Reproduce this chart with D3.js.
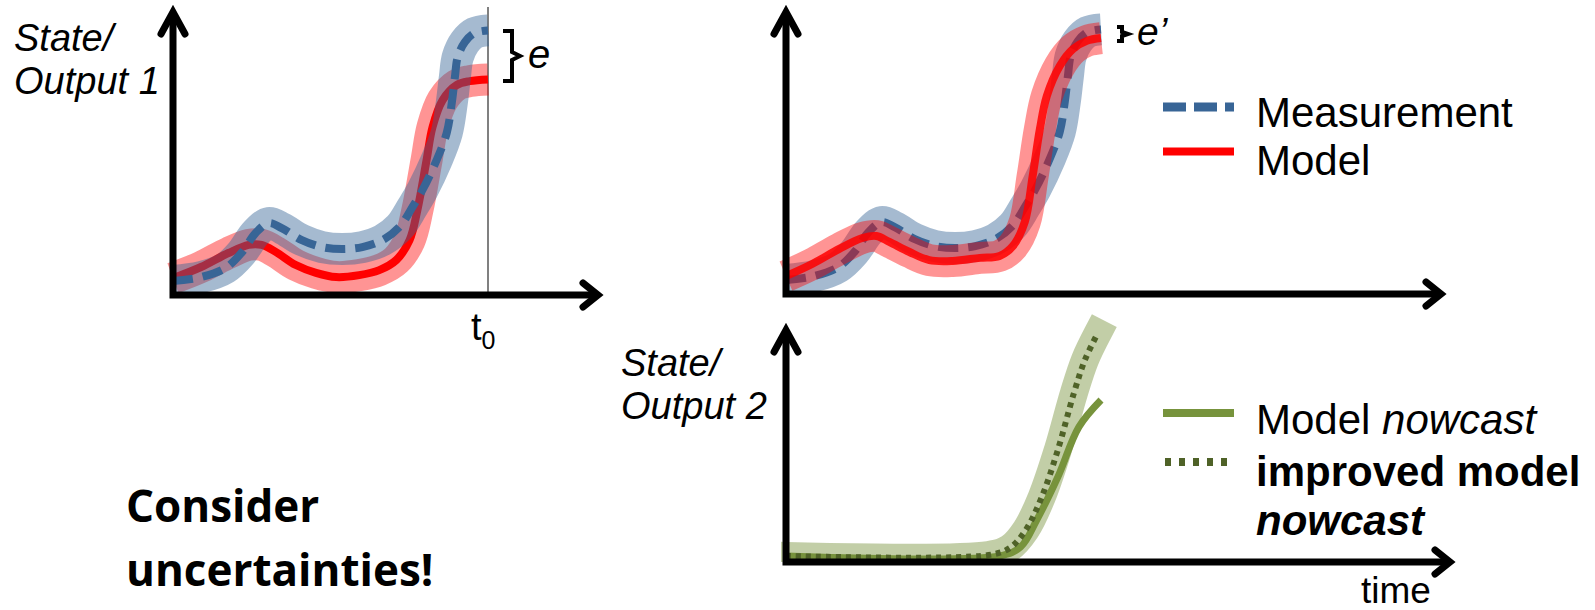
<!DOCTYPE html>
<html>
<head>
<meta charset="utf-8">
<script src="https://cdn.jsdelivr.net/npm/d3@7"></script>
<style>
  body { margin: 0; background: #fff; }
  text { font-family: "Liberation Sans", Arial, sans-serif; fill: #000; }
</style>
</head>
<body>
<div class="chart"></div>
<script>
// Values. Time runs 0..100 where 100 is t0 (now),
// state values run 0..100 from the x axis up.
var measurementTime = [0, 9, 16.6, 21.7, 26.2, 30.4, 34.5, 40.9, 47.3, 53.7, 60.1, 66.5, 71.9, 76, 79.2, 83.7, 86.9, 88.5, 89.5, 90.4, 92.7, 95.8, 100];
var measurementValue = [5, 6.4, 9.6, 15, 22.1, 25.7, 23.9, 19.6, 17.1, 16.4, 17.1, 19.6, 24.3, 31.4, 37.5, 48.2, 57.9, 68.6, 77.9, 85, 90.4, 93.6, 94.5];

var modelTime = [0, 8.9, 17.6, 24, 28.1, 32.6, 39, 45.4, 51.8, 59.1, 65.5, 70.9, 75.1, 77.6, 80.5, 82.4, 85.6, 90.1, 94.2, 100];
var modelValue = [6, 10, 15, 17.9, 17.9, 15.4, 10.7, 7.9, 6.4, 7.1, 8.9, 12.5, 19.6, 30.4, 48.2, 60, 69.6, 75, 76.4, 77];

var improvedTime = [0, 8.3, 16.9, 24.2, 28.7, 32.8, 39.2, 45.5, 52.9, 61.5, 67.8, 72, 75.8, 78.3, 80.6, 82.8, 86.9, 91.1, 95.5, 100];
var improvedValue = [6.4, 10.7, 16.1, 20, 20.7, 18.6, 15, 12.1, 11.8, 12.9, 13.6, 17.1, 25.7, 42.1, 58.9, 70.7, 81.4, 87.5, 90.4, 91.4];

var nowcastTime = [0, 67.8, 74.5, 79.6, 86.3, 93, 100];
var nowcastValue = [2.5, 2.5, 6.3, 17.5, 35.4, 56.3, 67.5];

var improvedNowcastTime = [0, 64.3, 71, 76.1, 81.2, 86.3, 91.4, 94.9, 99];
var improvedNowcastValue = [2.5, 2.9, 5.8, 13.3, 27.1, 46.7, 70.4, 84.2, 95.4];

var topLegendLabels = ["Measurement", "Model"];
var yLabel1 = ["State/", "Output 1"];
var yLabel2 = ["State/", "Output 2"];
var message = ["Consider", "uncertainties!"];

// colours
var blue = "#386596", red = "#ff0000", green = "#77933c", darkGreen = "#4f6228";

var svg = d3.select(".chart")
    .append("svg")
    .attr("width", 1595)
    .attr("height", 610);

// scales, one per panel
var xLeft = d3.scaleLinear().domain([0, 100]).range([173, 488]);
var xRight = d3.scaleLinear().domain([0, 100]).range([786, 1101]);
var yTopLeft = d3.scaleLinear().domain([0, 100]).range([295, 15]);
var yTopRight = d3.scaleLinear().domain([0, 100]).range([294, 14]);
var yBottom = d3.scaleLinear().domain([0, 100]).range([562, 322]);

// the uncertainty band of output 2 is cut at the axes
svg.append("defs").append("clipPath").attr("id", "clip-bottom")
    .append("rect")
    .attr("x", xRight(0) - 5).attr("y", 280)
    .attr("width", 400).attr("height", yBottom(0) - 280);

function drawSeries(g, xs, ys, times, values, color, width, opacity, dash, cap) {
    var line = d3.line()
        .x(function (d) { return xs(d[0]); })
        .y(function (d) { return ys(d[1]); })
        .curve(d3.curveCatmullRom.alpha(0.5));
    var p = g.append("path")
        .datum(d3.zip(times, values))
        .attr("d", line)
        .attr("fill", "none")
        .attr("stroke", color)
        .attr("stroke-width", width)
        .attr("stroke-opacity", opacity)
        .attr("stroke-linecap", cap || "butt")
        .attr("stroke-linejoin", "round");
    if (dash) p.attr("stroke-dasharray", dash);
    return p;
}

// axes: L-shaped black lines with open chevron heads
function drawAxes(g, x0, yBase, yTop, xEnd) {
    g.append("path")
        .attr("d", "M" + x0 + "," + yTop + "V" + yBase + "H" + xEnd)
        .attr("fill", "none").attr("stroke", "#000").attr("stroke-width", 7);
    g.append("path")
        .attr("d", "M" + (x0 - 12) + "," + (yTop + 22) + "L" + x0 + "," + yTop + "L" + (x0 + 12) + "," + (yTop + 22))
        .attr("fill", "none").attr("stroke", "#000").attr("stroke-width", 7)
        .attr("stroke-linecap", "round").attr("stroke-linejoin", "miter");
    g.append("path")
        .attr("d", "M" + (xEnd - 15) + "," + (yBase - 12) + "L" + xEnd + "," + yBase + "L" + (xEnd - 15) + "," + (yBase + 12))
        .attr("fill", "none").attr("stroke", "#000").attr("stroke-width", 7)
        .attr("stroke-linecap", "round").attr("stroke-linejoin", "miter");
}

// ---------- panel 1 : before correction ----------
var p1 = svg.append("g");
p1.append("line")
    .attr("x1", xLeft(100)).attr("x2", xLeft(100))
    .attr("y1", 7).attr("y2", 298)
    .attr("stroke", "#808080").attr("stroke-width", 2);

drawSeries(p1, xLeft, yTopLeft, modelTime, modelValue, red, 32, 0.42);
drawSeries(p1, xLeft, yTopLeft, modelTime, modelValue, red, 8, 1);
drawSeries(p1, xLeft, yTopLeft, measurementTime, measurementValue, blue, 32, 0.45);
drawSeries(p1, xLeft, yTopLeft, measurementTime, measurementValue, blue, 8, 1, "20,10");
drawAxes(p1, 173, 295, 12, 598);

p1.selectAll(".ylab").data(yLabel1).enter().append("text")
    .attr("x", 14).attr("y", function (d, i) { return 51 + i * 43; })
    .style("font-size", "38px").style("font-style", "italic")
    .text(function (d) { return d; });

// t0 label
var t0 = p1.append("text").attr("x", 471).attr("y", 340).style("font-size", "38px");
t0.append("tspan").text("t");
t0.append("tspan").attr("dy", 9).style("font-size", "25px").text("0");

// error brace e
p1.append("path")
    .attr("d", "M503,31H512V52L520,56L512,60V81H503")
    .attr("fill", "none").attr("stroke", "#000").attr("stroke-width", 4);
p1.append("text").attr("x", 528).attr("y", 68)
    .style("font-size", "40px").style("font-style", "italic").text("e");

// ---------- panel 2 : after correction ----------
var p2 = svg.append("g");
drawSeries(p2, xRight, yTopRight, measurementTime, measurementValue, blue, 32, 0.45);
drawSeries(p2, xRight, yTopRight, measurementTime, measurementValue, blue, 8, 1, "20,10");
drawSeries(p2, xRight, yTopRight, improvedTime, improvedValue, red, 32, 0.42);
drawSeries(p2, xRight, yTopRight, improvedTime, improvedValue, red, 8, 0.85);
drawAxes(p2, 786, 294, 12, 1441);

p2.append("path")
    .attr("d", "M1117,27H1122V32L1128,34L1122,36V41H1117")
    .attr("fill", "none").attr("stroke", "#000").attr("stroke-width", 4);
p2.append("text").attr("x", 1137).attr("y", 45)
    .style("font-size", "39px").style("font-style", "italic").text("e\u2019");

// legend
var legendTop = p2.append("g");
legendTop.append("line").attr("x1", 1163).attr("x2", 1234).attr("y1", 107).attr("y2", 107)
    .attr("stroke", blue).attr("stroke-width", 9).attr("stroke-dasharray", "23,8");
legendTop.append("line").attr("x1", 1163).attr("x2", 1234).attr("y1", 151.5).attr("y2", 151.5)
    .attr("stroke", red).attr("stroke-width", 8);
legendTop.selectAll("text").data(topLegendLabels).enter().append("text")
    .attr("x", 1256).attr("y", function (d, i) { return 127 + i * 48; })
    .style("font-size", "42px")
    .text(function (d) { return d; });

// ---------- panel 3 : second output, nowcast ----------
var p3 = svg.append("g");
drawSeries(p3, xRight, yBottom, improvedNowcastTime, improvedNowcastValue, green, 28, 0.45, null, "square")
    .attr("clip-path", "url(#clip-bottom)");
drawSeries(p3, xRight, yBottom, nowcastTime, nowcastValue, green, 7, 1);
drawSeries(p3, xRight, yBottom, improvedNowcastTime, improvedNowcastValue, darkGreen, 6, 1, "5,5");
drawAxes(p3, 786, 562, 330, 1450);

p3.selectAll(".ylab").data(yLabel2).enter().append("text")
    .attr("x", 621).attr("y", function (d, i) { return 376 + i * 43; })
    .style("font-size", "38px").style("font-style", "italic")
    .text(function (d) { return d; });

p3.append("text").attr("x", 1361).attr("y", 603).style("font-size", "37px").text("time");

var legendBottom = p3.append("g");
legendBottom.append("line").attr("x1", 1163).attr("x2", 1234).attr("y1", 413).attr("y2", 413)
    .attr("stroke", green).attr("stroke-width", 8);
legendBottom.append("line").attr("x1", 1165).attr("x2", 1234).attr("y1", 462).attr("y2", 462)
    .attr("stroke", darkGreen).attr("stroke-width", 8).attr("stroke-dasharray", "6,8");

var l1 = legendBottom.append("text").attr("x", 1256).attr("y", 434).style("font-size", "42px");
l1.append("tspan").text("Model ");
l1.append("tspan").style("font-style", "italic").text("nowcast");
legendBottom.append("text").attr("x", 1256).attr("y", 486)
    .style("font-size", "42px").style("font-weight", "bold").text("improved model");
legendBottom.append("text").attr("x", 1256).attr("y", 535)
    .style("font-size", "42px").style("font-weight", "bold").style("font-style", "italic").text("nowcast");

// ---------- message ----------
svg.selectAll(".msg").data(message).enter().append("text")
    .attr("x", 126).attr("y", function (d, i) { return 522 + i * 64; })
    .style("font-family", "'Open Sans', sans-serif")
    .style("font-weight", "bold").style("font-size", "44px")
    .text(function (d) { return d; });
</script>
</body>
</html>
